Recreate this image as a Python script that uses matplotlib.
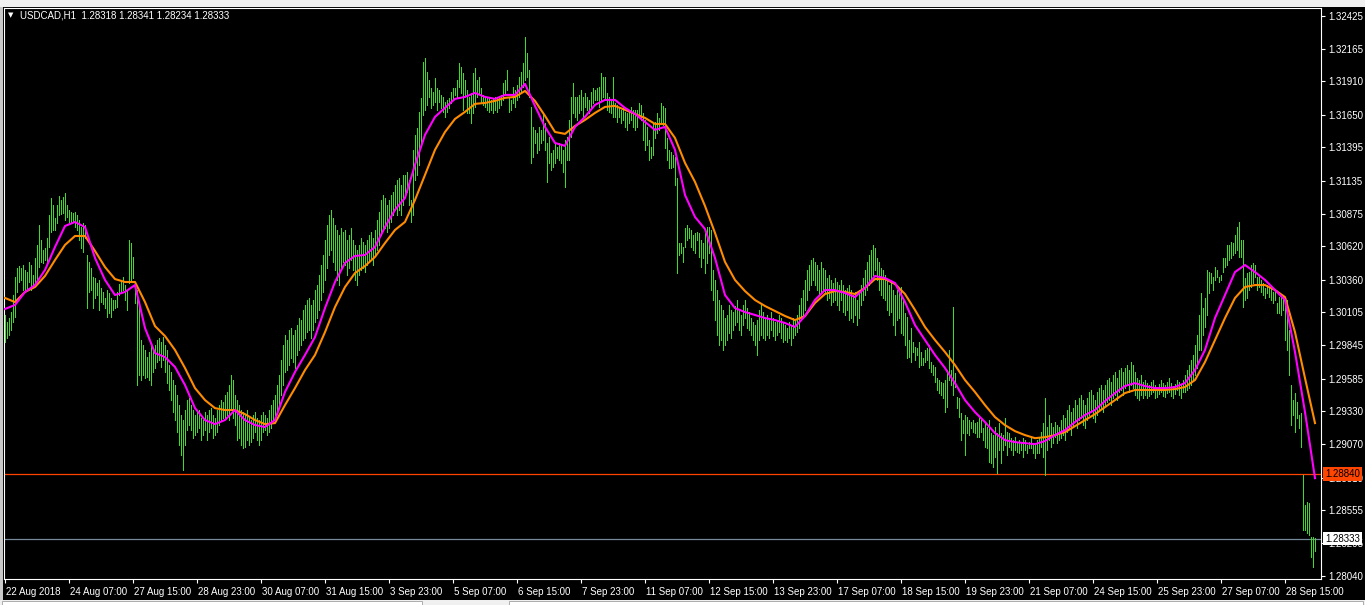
"""
USDCAD H1 bar chart with two moving averages, drawn in the MetaTrader look.
"""
import numpy as np
import matplotlib.pyplot as plt
from matplotlib import transforms
from matplotlib.patches import Rectangle

# prices are kept as points (1e-5) above BASE
BASE = 1.28

high_pts = [
    2083, 2028, 2059, 2106, 2239, 2380, 2450, 2466, 2450, 2474,
    2435, 2419, 2497, 2474, 2396, 2529, 2631, 2787, 2670, 2591,
    2607, 2685, 2866, 2999, 2944, 2842, 2944, 3014, 2983, 3006,
    3038, 2944, 2905, 2889, 2881, 2889, 2866, 2826, 2771, 2803,
    2787, 2552, 2497, 2450, 2380, 2372, 2333, 2357, 2294, 2262,
    2216, 2278, 2255, 2216, 2200, 2200, 2262, 2325, 2357, 2380,
    2317, 2278, 2670, 2646, 2536, 2333, 2278, 2177, 1887, 1848,
    1809, 1754, 1793, 1848, 1809, 1848, 1887, 1902, 1871, 1910,
    1848, 1809, 1692, 1637, 1574, 1535, 1457, 1378, 1300, 1261,
    1339, 1418, 1433, 1378, 1339, 1300, 1323, 1339, 1276, 1261,
    1323, 1300, 1339, 1355, 1300, 1276, 1339, 1378, 1418, 1402,
    1457, 1480, 1535, 1613, 1574, 1457, 1418, 1378, 1339, 1323,
    1300, 1339, 1276, 1261, 1300, 1323, 1276, 1261, 1300, 1323,
    1300, 1276, 1339, 1378, 1418, 1457, 1535, 1613, 1731, 1848,
    1926, 1887, 1965, 1981, 1926, 1965, 2004, 2059, 2044, 2122,
    2161, 2200, 2216, 2161, 2200, 2278, 2317, 2396, 2474, 2552,
    2670, 2787, 2866, 2905, 2842, 2787, 2748, 2709, 2764, 2733,
    2748, 2670, 2709, 2764, 2670, 2631, 2591, 2631, 2685, 2654,
    2631, 2670, 2709, 2733, 2685, 2748, 2826, 2889, 2983, 3022,
    2999, 2944, 2983, 3022, 3045, 3100, 3139, 3155, 3100, 3178,
    3178, 3202, 3139, 2983, 3374, 3491, 3546, 3671, 3781, 4063,
    4094, 3984, 3922, 3859, 3828, 3937, 3859, 3844, 3804, 3789,
    3750, 3765, 3781, 3828, 3859, 3859, 3922, 4055, 4024, 3977,
    3922, 3844, 3789, 3820, 3977, 4016, 3922, 3945, 3859, 3804,
    3789, 3789, 3789, 3765, 3781, 3789, 3781, 3789, 3804, 3898,
    3922, 4000, 3789, 3765, 3867, 3844, 3883, 3945, 3984, 4055,
    4258, 4133, 4000, 3711, 3554, 3531, 3507, 3554, 3531, 3664,
    3586, 3429, 3476, 3350, 3374, 3429, 3398, 3429, 3413, 3374,
    3452, 3476, 3609, 3789, 3898, 3789, 3789, 3804, 3844, 3789,
    3820, 3789, 3765, 3828, 3859, 3844, 3859, 3867, 3977, 3945,
    3945, 3820, 3789, 3765, 3945, 3742, 3726, 3711, 3687, 3703,
    3671, 3664, 3687, 3711, 3687, 3687, 3687, 3742, 3726, 3664,
    3609, 3554, 3452, 3398, 3586, 3593, 3664, 3624, 3742, 3718,
    3703, 3468, 3374, 3358, 3335, 3319, 3155, 2646, 2646, 2615,
    2764, 2787, 2764, 2748, 2709, 2725, 2733, 2725, 2670, 2646,
    2725, 2771, 2771, 2748, 2435, 2357, 2278, 2200, 2161, 2122,
    2059, 2083, 2161, 2122, 2106, 2153, 2200, 2122, 2083, 2161,
    2200, 2137, 2106, 2059, 2028, 2004, 2044, 2122, 2161, 2106,
    2059, 2083, 2044, 2106, 2059, 2028, 2044, 2083, 2059, 2028,
    2004, 1981, 2028, 2004, 2059, 2044, 2083, 2161, 2216, 2278,
    2357, 2435, 2474, 2513, 2529, 2497, 2474, 2435, 2497, 2450,
    2435, 2372, 2396, 2357, 2333, 2372, 2341, 2317, 2357, 2317,
    2278, 2294, 2317, 2278, 2239, 2262, 2200, 2278, 2317, 2372,
    2435, 2497, 2552, 2591, 2631, 2607, 2529, 2497, 2450, 2435,
    2396, 2357, 2317, 2341, 2278, 2239, 2278, 2294, 2302, 2200,
    2098, 2067, 1887, 1981, 1871, 1832, 1824, 1871, 1793, 1746,
    1809, 1824, 1848, 1715, 1692, 1676, 1590, 1574, 1558, 1551,
    1574, 1652, 1809, 1652, 2145, 1629, 1441, 1433, 1316, 1261,
    1300, 1284, 1261, 1245, 1261, 1237, 1245, 1276, 1261, 1198,
    1237, 1206, 1261, 1159, 1144, 1206, 1159, 1237, 1159, 1144,
    1276, 1167, 1159, 1120, 1105, 1128, 1089, 1105, 1089, 1120,
    1105, 1065, 1089, 1120, 1065, 1081, 1105, 1120, 1167, 1237,
    1433, 1206, 1300, 1237, 1206, 1245, 1222, 1206, 1261, 1300,
    1276, 1339, 1378, 1323, 1355, 1418, 1378, 1433, 1457, 1418,
    1378, 1433, 1480, 1496, 1457, 1418, 1480, 1511, 1535, 1496,
    1535, 1574, 1590, 1558, 1613, 1637, 1590, 1652, 1668, 1637,
    1668, 1692, 1652, 1715, 1692, 1637, 1590, 1574, 1613, 1558,
    1574, 1551, 1535, 1558, 1574, 1535, 1511, 1543, 1574, 1551,
    1535, 1558, 1590, 1551, 1527, 1543, 1574, 1558, 1535, 1574,
    1613, 1652, 1692, 1731, 1770, 1848, 1926, 2083, 2255, 2137,
    2216, 2435, 2419, 2411, 2380, 2459, 2435, 2380, 2396, 2529,
    2529, 2631, 2631, 2654, 2646, 2709, 2771, 2811, 2670, 2670,
    2372, 2411, 2419, 2474, 2490, 2474, 2380, 2380, 2357, 2333,
    2294, 2317, 2302, 2294, 2262, 2278, 2177, 2224, 2239, 2224,
    2200, 2200, 1965, 1535, 1418, 1472, 1402, 1300, 1316, 831,
    596, 619, 611, 345, 345, 341,
]

low_pts = [
    1871, 1902, 1926, 1965, 2028, 2067, 2262, 2341, 2357, 2278,
    2278, 2294, 2341, 2278, 2310, 2325, 2357, 2459, 2497, 2490,
    2513, 2497, 2615, 2733, 2748, 2748, 2803, 2866, 2873, 2881,
    2826, 2850, 2811, 2803, 2811, 2771, 2748, 2670, 2607, 2576,
    2685, 2137, 2262, 2278, 2137, 2216, 2239, 2122, 2184, 2169,
    2137, 2067, 2098, 2067, 2122, 2137, 2145, 2239, 2262, 2278,
    2200, 2122, 2333, 2357, 2372, 2177, 1535, 1613, 1574, 1613,
    1590, 1597, 1574, 1535, 1637, 1668, 1715, 1731, 1676, 1731,
    1637, 1551, 1496, 1418, 1323, 1261, 1167, 1065, 987, 870,
    1065, 1183, 1222, 1183, 1120, 1144, 1167, 1198, 1105, 1144,
    1183, 1105, 1167, 1198, 1120, 1144, 1167, 1222, 1261, 1276,
    1276, 1300, 1261, 1339, 1276, 1222, 1105, 1120, 1065, 1042,
    1050, 1105, 1065, 1089, 1120, 1167, 1105, 1065, 1105, 1167,
    1183, 1144, 1167, 1198, 1261, 1300, 1339, 1378, 1457, 1535,
    1637, 1652, 1692, 1746, 1715, 1668, 1770, 1809, 1848, 1887,
    1902, 1950, 1965, 1902, 1965, 2028, 2059, 2122, 2200, 2262,
    2357, 2450, 2552, 2591, 2497, 2435, 2357, 2317, 2435, 2497,
    2474, 2396, 2450, 2513, 2435, 2357, 2317, 2396, 2435, 2450,
    2419, 2474, 2497, 2529, 2474, 2552, 2591, 2631, 2709, 2748,
    2764, 2733, 2764, 2811, 2866, 2905, 2866, 2905, 2866, 2944,
    3022, 3045, 2944, 2811, 2866, 3139, 3178, 3257, 3413, 3648,
    3687, 3726, 3789, 3703, 3726, 3750, 3687, 3750, 3703, 3671,
    3632, 3671, 3703, 3742, 3765, 3804, 3789, 3867, 3820, 3687,
    3789, 3664, 3664, 3586, 3664, 3711, 3789, 3820, 3750, 3726,
    3711, 3687, 3671, 3687, 3664, 3687, 3671, 3703, 3726, 3765,
    3820, 3844, 3671, 3687, 3742, 3711, 3765, 3789, 3820, 3867,
    3922, 3945, 3789, 3272, 3319, 3429, 3350, 3374, 3429, 3452,
    3374, 3124, 3272, 3218, 3241, 3272, 3311, 3296, 3272, 3202,
    3085, 3296, 3296, 3476, 3664, 3632, 3609, 3664, 3687, 3632,
    3711, 3687, 3664, 3711, 3742, 3765, 3765, 3711, 3765, 3789,
    3765, 3687, 3671, 3664, 3632, 3632, 3593, 3632, 3586, 3609,
    3554, 3531, 3586, 3609, 3554, 3531, 3554, 3632, 3609, 3452,
    3374, 3413, 3296, 3311, 3335, 3468, 3507, 3531, 3586, 3570,
    3390, 3296, 3233, 3233, 3241, 3100, 2411, 2552, 2568, 2497,
    2615, 2670, 2685, 2615, 2591, 2568, 2670, 2536, 2459, 2529,
    2411, 2490, 2568, 2278, 2200, 2044, 1926, 1848, 1887, 1809,
    1848, 1887, 1942, 1902, 1965, 2004, 2028, 1965, 1926, 2004,
    2059, 1981, 1965, 1926, 1887, 1848, 1770, 1887, 1926, 1902,
    1887, 1926, 1902, 1965, 1918, 1887, 1926, 1950, 1902, 1871,
    1887, 1871, 1902, 1848, 1902, 1926, 1950, 1981, 2044, 2083,
    2122, 2200, 2278, 2317, 2357, 2317, 2278, 2239, 2262, 2278,
    2255, 2200, 2216, 2161, 2184, 2200, 2161, 2122, 2200, 2106,
    2083, 2122, 2044, 2059, 2028, 2083, 2004, 2059, 2161, 2200,
    2239, 2278, 2317, 2372, 2396, 2435, 2357, 2278, 2239, 2216,
    2200, 2122, 2083, 2106, 2004, 1926, 2044, 2059, 1942, 1926,
    1848, 1746, 1754, 1715, 1793, 1731, 1770, 1676, 1692, 1692,
    1715, 1731, 1668, 1637, 1613, 1558, 1496, 1472, 1457, 1433,
    1323, 1363, 1574, 1535, 1457, 1519, 1355, 1284, 1105, 1159,
    987, 1159, 1144, 1198, 1167, 1159, 1128, 1128, 1167, 1105,
    1050, 1042, 932, 925, 893, 971, 846, 1026, 925, 1026,
    1065, 987, 1050, 1026, 987, 1026, 1011, 1003, 1026, 971,
    1026, 1003, 1042, 1042, 1003, 963, 1003, 1003, 1050, 971,
    831, 1026, 1105, 1050, 1081, 1128, 1081, 1105, 1120, 1144,
    1105, 1167, 1198, 1144, 1222, 1245, 1198, 1261, 1276, 1222,
    1198, 1261, 1300, 1323, 1276, 1245, 1300, 1339, 1355, 1323,
    1378, 1402, 1418, 1378, 1433, 1457, 1418, 1480, 1496, 1457,
    1511, 1535, 1480, 1535, 1511, 1457, 1433, 1418, 1457, 1433,
    1457, 1433, 1449, 1465, 1480, 1433, 1441, 1465, 1480, 1449,
    1441, 1472, 1480, 1449, 1433, 1465, 1496, 1457, 1433, 1480,
    1480, 1496, 1511, 1535, 1574, 1613, 1668, 1809, 1809, 1926,
    1989, 2083, 2255, 2333, 2278, 2357, 2380, 2341, 2357, 2419,
    2459, 2474, 2513, 2529, 2552, 2568, 2591, 2536, 2536, 2145,
    2200, 2216, 2278, 2302, 2333, 2380, 2278, 2302, 2262, 2239,
    2216, 2255, 2224, 2200, 2177, 2200, 2098, 2098, 2083, 2122,
    1887, 1809, 1613, 1222, 1300, 1167, 1276, 1198, 1050, 400,
    400, 376, 361, 189, 110, 234,
]

# moving averages, read every 5th bar
MA_STEP = 5
ma_fast_pts = [
    2130, 2161, 2263, 2317, 2435, 2615, 2779, 2811, 2771, 2529,
    2357, 2239, 2263, 2317, 1981, 1785, 1754, 1676, 1535, 1354,
    1261, 1229, 1261, 1339, 1261, 1222, 1206, 1261, 1480, 1637,
    1770, 1910, 2137, 2341, 2490, 2545, 2552, 2615, 2771, 2905,
    2999, 3257, 3492, 3633, 3703, 3774, 3789, 3821, 3789, 3774,
    3805, 3805, 3891, 3719, 3555, 3429, 3406, 3555, 3633, 3727,
    3766, 3766, 3703, 3656, 3594, 3531, 3555, 3375, 3022, 2850,
    2756, 2529, 2239, 2137, 2106, 2083, 2059, 2043, 2020, 1989,
    2075, 2200, 2278, 2278, 2255, 2223, 2294, 2388, 2372, 2333,
    2184, 2004, 1887, 1770, 1668, 1550, 1417, 1323, 1245, 1159,
    1104, 1088, 1080, 1072, 1096, 1143, 1182, 1245, 1300, 1339,
    1409, 1472, 1527, 1550, 1527, 1511, 1511, 1519, 1550, 1652,
    1809, 2059, 2239, 2419, 2474, 2419, 2357, 2278, 2200, 1793,
    1323, 806,
]
ma_slow_pts = [
    2216, 2184, 2263, 2302, 2388, 2513, 2631, 2701, 2701, 2584,
    2458, 2364, 2341, 2341, 2184, 1996, 1918, 1809, 1668, 1511,
    1417, 1354, 1339, 1339, 1307, 1261, 1229, 1237, 1378, 1511,
    1652, 1770, 1949, 2145, 2302, 2411, 2466, 2537, 2646, 2748,
    2811, 2983, 3179, 3375, 3515, 3617, 3672, 3735, 3742, 3758,
    3782, 3789, 3836, 3758, 3641, 3515, 3500, 3562, 3609, 3664,
    3711, 3719, 3688, 3656, 3625, 3578, 3578, 3468, 3273, 3124,
    2936, 2725, 2498, 2357, 2270, 2200, 2153, 2114, 2075, 2043,
    2075, 2177, 2247, 2270, 2263, 2247, 2294, 2364, 2364, 2325,
    2247, 2122, 1989, 1887, 1793, 1691, 1574, 1480, 1378, 1284,
    1221, 1174, 1143, 1119, 1127, 1143, 1166, 1213, 1261, 1307,
    1362, 1417, 1472, 1496, 1496, 1496, 1496, 1503, 1519, 1574,
    1715, 1887, 2059, 2216, 2302, 2317, 2317, 2278, 2223, 1949,
    1589, 1237,
]

date_labels = [
    "22 Aug 2018", "24 Aug 07:00", "27 Aug 15:00", "28 Aug 23:00",
    "30 Aug 07:00", "31 Aug 15:00", "3 Sep 23:00", "5 Sep 07:00",
    "6 Sep 15:00", "7 Sep 23:00", "11 Sep 07:00", "12 Sep 15:00",
    "13 Sep 23:00", "17 Sep 07:00", "18 Sep 15:00", "19 Sep 23:00",
    "21 Sep 07:00", "24 Sep 15:00", "25 Sep 23:00", "27 Sep 07:00",
    "28 Sep 15:00",
]
LABEL_EVERY = 32  # bars between date labels

price_ticks = [
    1.28040, 1.28295, 1.28555, 1.28810, 1.29070, 1.29330, 1.29585,
    1.29845, 1.30105, 1.30360, 1.30620, 1.30875, 1.31135, 1.31395,
    1.31650, 1.31910, 1.32165, 1.32425,
]
level_line = 1.28840   # orange-red horizontal line
bid_line = 1.28333     # grey current-price line
title = "USDCAD,H1  1.28318 1.28341 1.28234 1.28333"

BAR_COLOR = "#3cdc28"
FAST_COLOR = "#ff00ff"
SLOW_COLOR = "#ff8c00"
LEVEL_COLOR = "#ff4500"
BID_COLOR = "#778899"


def main():
    plt.rcParams['font.family'] = ['Liberation Sans', 'DejaVu Sans']
    W, H = 1365, 605
    fig = plt.figure(figsize=(W / 100, H / 100), dpi=100, facecolor="black")
    ax = fig.add_axes([4 / W, 1 - 579 / H, (1321 - 4) / W, (579 - 8) / H],
                      facecolor="black")

    highs = BASE + np.array(high_pts) / 1e5
    lows = BASE + np.array(low_pts) / 1e5
    assert len(highs) == len(lows)
    idx = np.arange(len(highs))
    ma_idx = np.arange(0, len(highs), MA_STEP)
    fast = BASE + np.array(ma_fast_pts) / 1e5
    slow = BASE + np.array(ma_slow_pts) / 1e5

    # ── bars + indicators ──
    ax.axhline(level_line, color=LEVEL_COLOR, lw=0.9, zorder=1)
    ax.axhline(bid_line, color=BID_COLOR, lw=0.9, zorder=1)
    ax.vlines(idx, lows, highs, colors=BAR_COLOR, lw=0.5,
              antialiased=False, zorder=2)
    ax.plot(ma_idx[:len(slow)], slow, color=SLOW_COLOR, lw=1.5, zorder=3)
    ax.plot(ma_idx[:len(fast)], fast, color=FAST_COLOR, lw=1.5, zorder=4)

    ax.set_xlim(-0.5, 658)
    ax.set_ylim(1.28017, 1.32485)

    # ── axes styling ──
    for sp in ax.spines.values():
        sp.set_color("white")
        sp.set_linewidth(0.8)
    ax.yaxis.tick_right()
    ax.set_yticks(price_ticks)
    ax.set_yticklabels([f"{p:.5f}" for p in price_ticks])
    ax.tick_params(axis="y", colors="white", length=3, width=0.8, pad=2,
                   labelsize=7)
    ax.set_xticks(np.arange(len(date_labels)) * LABEL_EVERY)
    ax.set_xticklabels(date_labels, ha="left")
    ax.tick_params(axis="x", colors="white", length=3, width=0.8, pad=2.5,
                   labelsize=7)
    shift = transforms.ScaledTranslation(1.5 / 100, 0, fig.dpi_scale_trans)
    for lbl in ax.get_xticklabels():
        lbl.set_transform(lbl.get_transform() + shift)

    # price tags on the right scale (they sit over the scale, as in the terminal)
    tr = transforms.blended_transform_factory(ax.transAxes, ax.transData)
    xr = 1 + 4 / (1321 - 4)
    ax.text(xr, level_line, f"{level_line:.5f}", transform=tr, ha="left",
            va="center", fontsize=7, color="black", clip_on=False, zorder=6,
            bbox=dict(boxstyle="square,pad=0.18", fc=LEVEL_COLOR, ec="none"))
    ax.text(xr, bid_line, f"{bid_line:.5f}", transform=tr, ha="left",
            va="center", fontsize=7, color="black", clip_on=False, zorder=6,
            bbox=dict(boxstyle="square,pad=0.18", fc="white", ec="none"))

    # symbol header
    fig.text(8 / W, 1 - 15 / H, "\u25bc", fontsize=5, color="white",
             va="center", family="DejaVu Sans")
    fig.text(20 / W, 1 - 15 / H, title, fontsize=7, color="white",
             va="center", ha="left")

    # ── window chrome ──
    fig.add_artist(Rectangle((0, 1 - 7 / H), 1, 7 / H, transform=fig.transFigure,
                             fc="#f0f0f0", ec="none"))
    fig.add_artist(Rectangle((0, 0), 3 / W, 1 - 7 / H, transform=fig.transFigure,
                             fc="#c8c8c8", ec="none"))
    fig.add_artist(Rectangle((0, 0), 1, 5 / H, transform=fig.transFigure,
                             fc="#f0f0f0", ec="none"))
    for x0, x1 in [(2, 422), (509, 1363)]:
        fig.add_artist(Rectangle((x0 / W, 0), (x1 - x0) / W, 4 / H,
                                 transform=fig.transFigure, fc="white",
                                 ec="#a0a0a0", lw=0.6))

    fig.savefig("out.png", dpi=100, facecolor="black")


if __name__ == "__main__":
    main()
